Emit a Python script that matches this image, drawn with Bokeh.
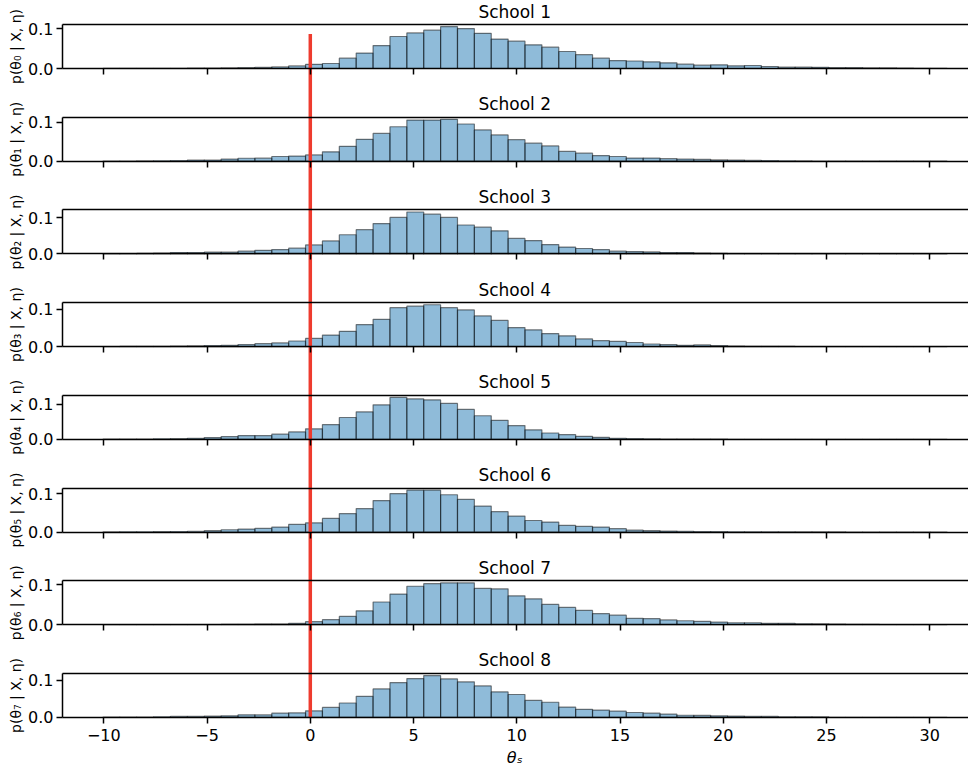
import numpy as np
from bokeh.plotting import figure
from bokeh.models import LinearAxis, FixedTicker, Range1d, ColumnDataSource
from bokeh.core.properties import value
from bokeh.embed import file_html
from bokeh.resources import INLINE

# ---------------- data ----------------
BIN_START = -10.04
BIN_WIDTH = 0.8175
N_BINS = 50

SCHOOLS = ["School 1", "School 2", "School 3", "School 4",
           "School 5", "School 6", "School 7", "School 8"]
YLABELS = ["p(θ₀ | X, η)", "p(θ₁ | X, η)", "p(θ₂ | X, η)", "p(θ₃ | X, η)",
           "p(θ₄ | X, η)", "p(θ₅ | X, η)", "p(θ₆ | X, η)", "p(θ₇ | X, η)"]
X_TICKS = [-10, -5, 0, 5, 10, 15, 20, 25, 30]
Y_TICKS = [0.0, 0.1]
Y_TICK_LABELS = ["0.0", "0.1"]
X_LABEL = "θₛ"
REF_X = 0.0
REF_TOP = 0.0875

school_1 = [0.0002, 0.0002, 0.0003, 0.0003, 0.0005, 0.0008, 0.001, 0.0015, 0.002, 0.0028,
            0.004, 0.0065, 0.0105, 0.0127, 0.026, 0.039, 0.058, 0.081, 0.090, 0.097,
            0.106, 0.101, 0.089, 0.0745, 0.069, 0.060, 0.054, 0.043, 0.035, 0.026,
            0.020, 0.019, 0.017, 0.0144, 0.011, 0.0085, 0.0093, 0.0068, 0.0076, 0.005,
            0.0034, 0.0034, 0.003, 0.002, 0.002, 0.0015, 0.0015, 0.001, 0.0004, 0.0003]
school_2 = [0.0003, 0.0005, 0.0008, 0.001, 0.0015, 0.003, 0.003, 0.0055, 0.0075, 0.0078,
            0.012, 0.013, 0.016, 0.024, 0.038, 0.056, 0.071, 0.088, 0.105, 0.105,
            0.107, 0.095, 0.080, 0.067, 0.055, 0.046, 0.039, 0.025, 0.0205, 0.0145,
            0.012, 0.008, 0.008, 0.0065, 0.0055, 0.0045, 0.0034, 0.003, 0.002, 0.0015,
            0.001, 0.0008, 0.0006, 0.0004, 0.0003, 0.0002, 0.0002, 0.0001, 0.0001, 0.0001]
school_3 = [0.0005, 0.001, 0.0015, 0.002, 0.0037, 0.0037, 0.0047, 0.0047, 0.0075, 0.010,
            0.012, 0.016, 0.025, 0.036, 0.053, 0.067, 0.084, 0.101, 0.116, 0.110,
            0.101, 0.080, 0.074, 0.064, 0.043, 0.037, 0.026, 0.019, 0.015, 0.012,
            0.0075, 0.0065, 0.0056, 0.0037, 0.0037, 0.002, 0.0015, 0.001, 0.001, 0.0005,
            0.0004, 0.0003, 0.0002, 0.0002, 0.0001, 0.0001, 0.0001, 0.0001, 0.0001, 0.0001]
school_4 = [0.0003, 0.0005, 0.0008, 0.001, 0.0015, 0.002, 0.0028, 0.0036, 0.0054, 0.008,
            0.0098, 0.015, 0.022, 0.031, 0.041, 0.059, 0.073, 0.104, 0.108, 0.112,
            0.104, 0.098, 0.082, 0.070, 0.051, 0.045, 0.035, 0.029, 0.0205, 0.016,
            0.014, 0.011, 0.007, 0.0054, 0.0036, 0.0045, 0.0027, 0.0015, 0.001, 0.0008,
            0.0005, 0.0004, 0.0003, 0.0002, 0.0002, 0.0001, 0.0001, 0.0001, 0.0001, 0.0001]
school_5 = [0.0005, 0.0008, 0.001, 0.0015, 0.002, 0.003, 0.005, 0.0078, 0.0107, 0.0107,
            0.0146, 0.021, 0.030, 0.042, 0.062, 0.078, 0.098, 0.119, 0.115, 0.112,
            0.102, 0.085, 0.067, 0.054, 0.039, 0.027, 0.018, 0.0136, 0.0087, 0.0058,
            0.003, 0.002, 0.0015, 0.001, 0.0008, 0.0005, 0.0004, 0.0003, 0.0002, 0.0001,
            0.0001, 0.0001, 0.0001, 0.0001, 0.0001, 0.0001, 0.0001, 0.0001, 0.0001, 0.0001]
school_6 = [0.0003, 0.0005, 0.0007, 0.001, 0.0013, 0.0017, 0.0035, 0.006, 0.0078, 0.0095,
            0.013, 0.020, 0.024, 0.0355, 0.048, 0.061, 0.082, 0.100, 0.109, 0.109,
            0.097, 0.085, 0.0675, 0.053, 0.0415, 0.030, 0.026, 0.0173, 0.0147, 0.013,
            0.0087, 0.005, 0.0035, 0.0026, 0.0017, 0.0012, 0.001, 0.0008, 0.0006, 0.0005,
            0.0004, 0.0003, 0.0003, 0.0002, 0.0001, 0.0001, 0.0001, 0.0001, 0.0001, 0.0001]
school_7 = [0.0001, 0.0001, 0.0002, 0.0002, 0.0003, 0.0004, 0.0006, 0.0008, 0.001, 0.0017,
            0.0017, 0.0034, 0.0077, 0.0128, 0.021, 0.035, 0.057, 0.077, 0.0965, 0.103,
            0.105, 0.105, 0.091, 0.090, 0.0725, 0.065, 0.051, 0.0435, 0.036, 0.028,
            0.024, 0.016, 0.0154, 0.012, 0.010, 0.0085, 0.0068, 0.005, 0.005, 0.0034,
            0.0034, 0.0025, 0.002, 0.0015, 0.001, 0.001, 0.0007, 0.0005, 0.0003, 0.0002]
school_8 = [0.001, 0.001, 0.001, 0.0018, 0.0027, 0.0027, 0.0036, 0.0045, 0.007, 0.007,
            0.0116, 0.0125, 0.018, 0.027, 0.039, 0.057, 0.077, 0.094, 0.105, 0.113,
            0.104, 0.096, 0.085, 0.069, 0.062, 0.046, 0.041, 0.028, 0.022, 0.020,
            0.017, 0.0134, 0.0116, 0.009, 0.006, 0.0054, 0.0045, 0.0036, 0.0027, 0.0027,
            0.0018, 0.0018, 0.0015, 0.0005, 0.0004, 0.0003, 0.0002, 0.0001, 0.0001, 0.0001]

DENSITIES = [school_1, school_2, school_3, school_4,
             school_5, school_6, school_7, school_8]

# ---------------- layout ----------------
W, H = 968, 767
PX_PER_X = 20.65
X_SPINE = -12.0
LEFT_PX = 62
x_lo = X_SPINE - LEFT_PX / PX_PER_X
x_hi = x_lo + W / PX_PER_X
PANEL_PX = 44.0
FIRST_BOTTOM_PX = 68.0
STEP_PX = 92.71
y_hi = H / PANEL_PX
TITLE_X = 9.9
FONT = "DejaVu Sans"
TICK_FONT = "16px"

edges = BIN_START + BIN_WIDTH * np.arange(N_BINS + 1)

p = figure(width=W, height=H, x_range=Range1d(x_lo, x_hi), y_range=Range1d(0, y_hi),
           output_backend="svg", toolbar_location=None,
           x_axis_type=None, y_axis_type=None,
           min_border_left=0, min_border_right=0, min_border_top=0,
           min_border_bottom=0)
p.outline_line_color = None
p.background_fill_color = "white"
p.border_fill_color = "white"


def style_axis(ax):
    ax.axis_line_color = "black"
    ax.axis_line_width = 1.5
    ax.major_tick_line_color = "black"
    ax.major_tick_line_width = 1.5
    ax.major_tick_out = 6
    ax.major_tick_in = 0
    ax.minor_tick_line_color = None
    ax.major_label_text_font = FONT
    ax.major_label_text_font_size = TICK_FONT
    ax.major_label_text_color = "black"
    ax.major_label_standoff = 3


bases = []
tops = []
for i, d in enumerate(DENSITIES):
    base = y_hi - (FIRST_BOTTOM_PX + STEP_PX * i) / PANEL_PX
    top = 1.05 * max(d)
    bases.append(base)
    tops.append(top)
    src = ColumnDataSource(dict(left=edges[:-1], right=edges[1:],
                                bottom=np.full(N_BINS, base),
                                top=base + np.array(d) / top))
    p.quad(left="left", right="right", bottom="bottom", top="top", source=src,
           fill_color="#1f77b4", fill_alpha=0.5,
           line_color="black", line_alpha=0.5, line_width=1.2)

    # left spine + y ticks
    yt = [base + t / top for t in Y_TICKS]
    yax = LinearAxis(fixed_location=X_SPINE, bounds=(base, base + 1),
                     ticker=FixedTicker(ticks=yt),
                     major_label_overrides={k: v for k, v in zip(yt, Y_TICK_LABELS)})
    style_axis(yax)
    p.add_layout(yax, "left")

    # top spine
    tax = LinearAxis(fixed_location=base + 1, bounds=(X_SPINE, x_hi),
                     ticker=FixedTicker(ticks=[]))
    style_axis(tax)
    tax.major_tick_line_color = None
    tax.major_label_text_color = None
    p.add_layout(tax, "above")

    # bottom spine + x ticks (labels only on the last panel)
    bax = LinearAxis(fixed_location=base, bounds=(X_SPINE, x_hi),
                     ticker=FixedTicker(ticks=X_TICKS))
    style_axis(bax)
    if i < 7:
        bax.major_label_text_color = None
    else:
        bax.major_label_standoff = 6
    p.add_layout(bax, "below")

# titles
p.text(x=[TITLE_X] * 8, y=[b + 1 + 13 / PANEL_PX for b in bases], text=SCHOOLS,
       text_font=value(FONT), text_font_size="17px", text_color="black",
       text_align="center", text_baseline="middle")

# y labels
p.text(x=[x_lo + 15 / PX_PER_X] * 8, y=[b + 0.5 for b in bases], text=YLABELS,
       angle=np.pi / 2, text_font=value(FONT), text_font_size="14px",
       text_color="black", text_align="center", text_baseline="middle")

# x label
p.text(x=[TITLE_X], y=[y_hi - 757 / PANEL_PX], text=[X_LABEL],
       text_font=value(FONT), text_font_size="16px", text_font_style="italic",
       text_color="black", text_align="center", text_baseline="middle")

# reference line at zero
p.segment(x0=[REF_X], y0=[bases[-1]], x1=[REF_X], y1=[bases[0] + REF_TOP / tops[0]],
          line_color="#ee3b2e", line_width=3.5)

open("out.html", "w").write(file_html(p, INLINE))
